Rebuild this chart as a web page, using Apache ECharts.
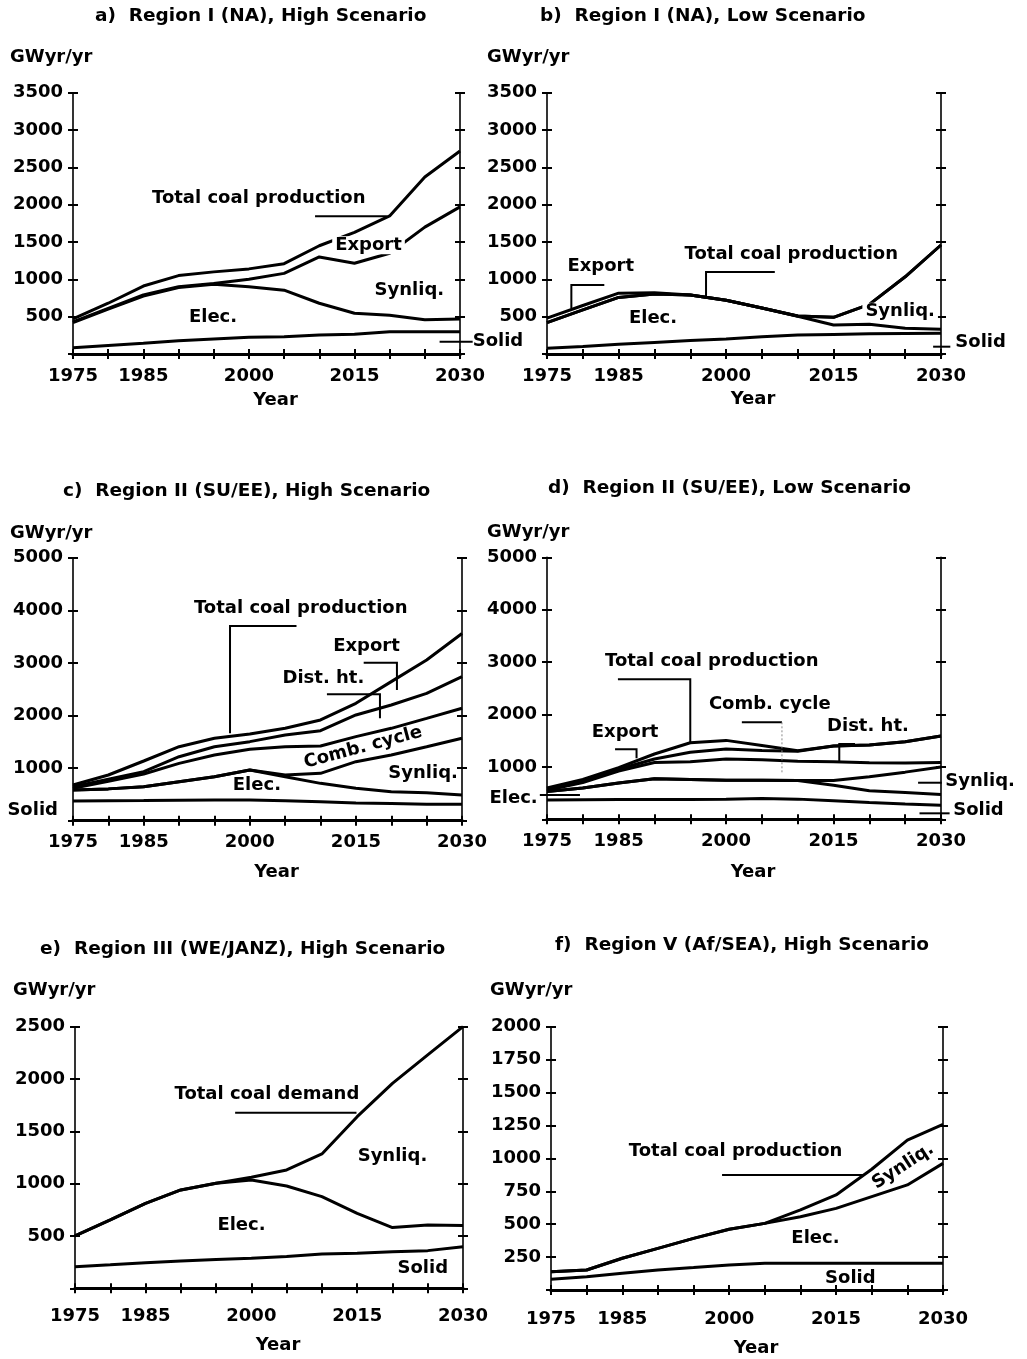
<!DOCTYPE html>
<html><head><meta charset="utf-8">
<script src="https://cdn.jsdelivr.net/npm/echarts@6/dist/echarts.min.js"></script>
<style>html,body{margin:0;padding:0;background:#fff}#c{width:1027px;height:1359px}</style>
</head><body><div id="c"></div><script>
// ---------- DATA ----------
const years = [1975,1980,1985,1990,1995,2000,2005,2010,2015,2020,2025,2030];
const xTickLabels = [1975,1985,2000,2015,2030];

// a) Region I (NA), High Scenario
const aTotal    = [470, 680, 910,1050,1100,1140,1210,1450,1630,1850,2370,2720];
const aNoExport = [430, 610, 790, 900, 945,1000,1080,1300,1215,1350,1700,1970];
const aElec     = [420, 600, 775, 890, 935, 900, 855, 680, 545, 520, 460, 470];
const aSolid    = [ 85, 115, 143, 179, 201, 223, 232, 254, 263, 299, 299, 299];

// b) Region I (NA), Low Scenario
const bTotal    = [480, 650, 815, 820, 790, 720, 615, 508, 491, 665,1034,1460];
const bNoExport = [420, 590, 758, 805, 790, 720, 615, 508, 491, 665,1034,1460];
const bElec     = [420, 590, 758, 805, 790, 720, 615, 505, 388, 400, 344, 330];
const bSolid    = [ 76, 100, 130, 155, 180, 201, 230, 254, 262, 270, 275, 277];

// c) Region II (SU/EE), High Scenario
const cTotal    = [678, 869,1135,1407,1566,1648,1756,1915,2232,2644,3056,3560];
const cNoExport = [647, 790, 932,1217,1407,1503,1629,1712,2010,2200,2422,2739];
const cDistLow  = [615, 750, 888,1090,1249,1357,1407,1420,1598,1756,1946,2137];
const cCombLow  = [583, 605, 647, 742, 837, 964, 870, 900,1122,1249,1407,1566];
const cElec     = [583, 605, 647, 742, 837, 964, 837, 710, 615, 552, 533, 488];
const cSolid    = [374, 378, 382, 388, 392, 393, 380, 361, 335, 325, 315, 311];

// d) Region II (SU/EE), Low Scenario
const dTotal    = [597, 759, 986,1246,1460,1506,1408,1310,1400,1420,1480,1590];
const dNoExport = [578, 740, 954,1150,1279,1343,1311,1300,1400,1420,1480,1590];
const dDistLow  = [552, 700, 921,1084,1097,1149,1136,1110,1100,1080,1075,1085];
const dCombLow  = [532, 597, 694, 772, 759, 746, 746, 740, 740, 810, 900,1000];
const dElec     = [532, 597, 694, 772, 759, 746, 746, 740, 650, 545, 510, 475];
const dSolid    = [370, 375, 380, 380, 380, 385, 395, 385, 355, 320, 290, 270];

// e) Region III (WE/JANZ), High Scenario
const eTotal    = [500, 653, 812, 940,1003,1061,1131,1284,1640,1959,2230,2500];
const eElec     = [500, 653, 812, 940,1003,1035, 978, 876, 717, 580, 605, 599];
const eSolid    = [207, 225, 245, 261, 275, 287, 305, 328, 334, 350, 360, 398];

// f) Region V (Af/SEA), High Scenario
const fTotal    = [139, 152, 241, 316, 392, 461, 506, 608, 722, 917,1139,1258];
const fElec     = [139, 152, 241, 316, 392, 461, 506, 557, 620, 709, 798, 962];
const fSolid    = [ 81, 101, 127, 152, 170, 190, 203, 203, 203, 203, 203, 203];

const panelTitles = [
  'a)  Region I (NA), High Scenario',
  'b)  Region I (NA), Low Scenario',
  'c)  Region II (SU/EE), High Scenario',
  'd)  Region II (SU/EE), Low Scenario',
  'e)  Region III (WE/JANZ), High Scenario',
  'f)  Region V (Af/SEA), High Scenario'
];
const yMaxes = [3500, 3500, 5000, 5000, 2500, 2000];
const yIntervals = [500, 500, 1000, 1000, 500, 250];
const panelSeries = [
  [aTotal, aNoExport, aElec, aSolid],
  [bTotal, bNoExport, bElec, bSolid],
  [cTotal, cNoExport, cDistLow, cCombLow, cElec, cSolid],
  [dTotal, dNoExport, dDistLow, dCombLow, dElec, dSolid],
  [eTotal, eElec, eSolid],
  [fTotal, fElec, fSolid]
];

// ---------- LAYOUT ----------
const FONT = '"DejaVu Sans", sans-serif';
const FW = 'bold';
const FS = 18;
const grids = [
  {left: 73,  top: 92.7,   width: 387, height: 261.3},
  {left: 547, top: 92.7,   width: 394, height: 261.3},
  {left: 73,  top: 557.7,  width: 389, height: 263},
  {left: 547, top: 557.3,  width: 394, height: 262},
  {left: 75,  top: 1026.7, width: 388, height: 261.6},
  {left: 551, top: 1026.7, width: 392, height: 263.3}
];
const titlePos = [[95,7],[540,7],[63,482],[548,479],[40,940],[555,936]];
const unitPos  = [[10,48],[487,48],[10,524],[487,523],[13,981],[490,981]];
const xLabelMargin = [13, 13, 13, 13, 19, 20];
const xNameGap = [37, 36, 43, 44, 48, 49];

const black = '#000';
const option = {
  animation: false,
  backgroundColor: '#fff',
  title: [],
  grid: grids.map(g => Object.assign({outerBoundsMode: 'none', containLabel: false}, g)),
  xAxis: [], yAxis: [], series: []
};

panelTitles.forEach((t, i) => {
  option.title.push({text: t, left: titlePos[i][0], top: titlePos[i][1], padding: 0,
    textStyle: {fontFamily: FONT, fontSize: 18.5, fontWeight: FW, color: black}});
  option.title.push({text: 'GWyr/yr', left: unitPos[i][0], top: unitPos[i][1], padding: 0,
    textStyle: {fontFamily: FONT, fontSize: FS, fontWeight: FW, color: black}});
});

for (let i = 0; i < 6; i++) {
  const xBase = {gridIndex: i, type: 'value', min: 1975, max: 2030, interval: 5, splitLine: {show: false}};
  option.xAxis.push(Object.assign({}, xBase, {
    position: 'bottom',
    axisLine: {show: true, lineStyle: {color: black, width: 3}},
    axisTick: {show: true, length: 5, lineStyle: {color: black, width: 2}},
    axisLabel: {show: true, margin: xLabelMargin[i], fontFamily: FONT, fontSize: FS, fontWeight: FW, color: black,
      formatter: v => xTickLabels.includes(v) ? String(v) : ''},
    name: 'Year', nameLocation: 'middle', nameGap: xNameGap[i],
    nameTextStyle: {fontFamily: FONT, fontSize: FS, fontWeight: FW, color: black, padding: [0, 0, 0, 18]}
  }));
  option.xAxis.push(Object.assign({}, xBase, {
    position: 'bottom', axisLine: {show: false},
    axisTick: {show: true, inside: true, length: 5, lineStyle: {color: black, width: 2}},
    axisLabel: {show: false}
  }));
  option.xAxis.push(Object.assign({}, xBase, {
    position: 'top', axisLine: {show: true, lineStyle: {color: black, width: 3}},
    axisTick: {show: false}, axisLabel: {show: false}
  }));
  const yBase = {gridIndex: i, type: 'value', min: 0, max: yMaxes[i], interval: yIntervals[i], splitLine: {show: false}};
  option.yAxis.push(Object.assign({}, yBase, {
    position: 'left',
    axisLine: {show: true, lineStyle: {color: black, width: 1.6}},
    axisTick: {show: true, length: 5, lineStyle: {color: black, width: 2}},
    axisLabel: {show: true, margin: 10, fontFamily: FONT, fontSize: FS, fontWeight: FW, color: black,
      formatter: v => v === 0 ? '' : String(v)}
  }));
  option.yAxis.push(Object.assign({}, yBase, {
    position: 'left', axisLine: {show: false},
    axisTick: {show: true, inside: true, length: 5, lineStyle: {color: black, width: 2}},
    axisLabel: {show: false}
  }));
  option.yAxis.push(Object.assign({}, yBase, {
    position: 'right', axisLine: {show: true, lineStyle: {color: black, width: 1.6}},
    axisTick: {show: true, length: 5, lineStyle: {color: black, width: 2}},
    axisLabel: {show: false}
  }));
  option.yAxis.push(Object.assign({}, yBase, {
    position: 'right', axisLine: {show: false},
    axisTick: {show: true, inside: true, length: 5, lineStyle: {color: black, width: 2}},
    axisLabel: {show: false}
  }));
  panelSeries[i].forEach(arr => {
    option.series.push({
      type: 'line', xAxisIndex: i * 3, yAxisIndex: i * 4,
      data: years.map((y, k) => [y, arr[k]]),
      symbol: 'none', silent: true, clip: false,
      lineStyle: {color: black, width: 3}
    });
  });
}

const chart = echarts.init(document.getElementById('c'), null, {renderer: 'canvas'});
chart.setOption(option);

// ---------- ANNOTATIONS (data coordinates) ----------
const notes = [
  // a
  {g: 0, t: 'Total coal production', at: [2001.4, 2087]},
  {g: 0, t: 'Export', at: [2017, 1458], bg: true},
  {g: 0, t: 'Synliq.', at: [2022.8, 856]},
  {g: 0, t: 'Elec.', at: [1994.9, 495]},
  {g: 0, t: 'Solid', at: [2031.8, 165], align: 'left'},
  // b
  {g: 1, t: 'Export', at: [1982.5, 1168]},
  {g: 1, t: 'Total coal production', at: [2009.1, 1338]},
  {g: 1, t: 'Elec.', at: [1989.8, 477]},
  {g: 1, t: 'Synliq.', at: [2024.3, 566], bg: true},
  {g: 1, t: 'Solid', at: [2032, 160], align: 'left'},
  // c
  {g: 2, t: 'Total coal production', at: [2007.2, 4043]},
  {g: 2, t: 'Export', at: [2016.5, 3309]},
  {g: 2, t: 'Dist. ht.', at: [2010.4, 2707]},
  {g: 2, t: 'Comb. cycle', at: [2016, 1392], rot: 15},
  {g: 2, t: 'Synliq.', at: [2024.5, 901]},
  {g: 2, t: 'Elec.', at: [2001, 679]},
  {g: 2, t: 'Solid', at: [1969.3, 203]},
  // d
  {g: 3, t: 'Total coal production', at: [1998, 3020]},
  {g: 3, t: 'Export', at: [1985.9, 1651]},
  {g: 3, t: 'Comb. cycle', at: [2006.1, 2185]},
  {g: 3, t: 'Dist. ht.', at: [2019.8, 1782]},
  {g: 3, t: 'Synliq.', at: [2030.6, 720], align: 'left'},
  {g: 3, t: 'Solid', at: [2031.7, 177], align: 'left'},
  {g: 3, t: 'Elec.', at: [1973.7, 406], align: 'right'},
  // e
  {g: 4, t: 'Total coal demand', at: [2002.2, 1857]},
  {g: 4, t: 'Synliq.', at: [2020, 1258]},
  {g: 4, t: 'Elec.', at: [1998.6, 605]},
  {g: 4, t: 'Solid', at: [2024.3, 191]},
  // f
  {g: 5, t: 'Total coal production', at: [2000.9, 1056]},
  {g: 5, t: 'Synliq.', at: [2024.4, 940], rot: 33},
  {g: 5, t: 'Elec.', at: [2012.1, 395]},
  {g: 5, t: 'Solid', at: [2017, 91]}
];
const leaders = [
  {g: 0, pts: [[2009.4, 1846], [2019.6, 1846]]},
  {g: 0, pts: [[2027.1, 165], [2031.8, 165]]},
  {g: 1, pts: [[1978.4, 611], [1978.4, 923], [1983, 923]]},
  {g: 1, pts: [[1997.2, 767], [1997.2, 1097], [2006.8, 1097]]},
  {g: 1, pts: [[2028.9, 98], [2031.3, 98]]},
  {g: 2, pts: [[1997.2, 1661], [1997.2, 3701], [2006.6, 3701]]},
  {g: 2, pts: [[2016.1, 3004], [2020.8, 3004], [2020.8, 2485]]},
  {g: 2, pts: [[2010.9, 2403], [2018.4, 2403], [2018.4, 1947]]},
  {g: 3, pts: [[1984.9, 2671], [1995, 2671], [1995, 1450]]},
  {g: 3, pts: [[1984.5, 1336], [1987.5, 1336], [1987.5, 1164]]},
  {g: 3, pts: [[2002.2, 1851], [2007.8, 1851]]},
  {g: 3, pts: [[2007.8, 1851], [2007.8, 878]], thin: true},
  {g: 3, pts: [[2015.8, 1099], [2015.8, 1437], [2018, 1437]]},
  {g: 3, pts: [[2026.8, 698], [2030.1, 698]]},
  {g: 3, pts: [[2027, 114], [2031.2, 114]]},
  {g: 3, pts: [[1974, 464], [1979.6, 464]]},
  {g: 4, pts: [[1997.7, 1678], [2014.9, 1678]]},
  {g: 5, pts: [[1999, 874], [2018.8, 874]]}
];

function px(g, pt) {
  return chart.convertToPixel({xAxisIndex: g * 3, yAxisIndex: g * 4}, pt);
}
const elements = [];
leaders.forEach(l => {
  elements.push({
    type: 'polyline', z: 90, silent: true,
    shape: {points: l.pts.map(p => px(l.g, p))},
    style: {stroke: l.thin ? '#888' : black, lineWidth: l.thin ? 1 : 2, fill: null,
      lineDash: l.thin ? [2, 2] : null}
  });
});
notes.forEach(n => {
  const p = px(n.g, n.at);
  const style = {
    text: n.t, fontFamily: FONT, fontSize: FS, fontWeight: FW, font: 'bold 18px "DejaVu Sans"', fill: black,
    align: n.align || 'center', textAlign: n.align || 'center',
    verticalAlign: 'middle', textVerticalAlign: 'middle'
  };
  if (n.bg) { style.backgroundColor = '#fff'; style.padding = [0, 3]; }
  elements.push({
    type: 'text', z: 100, silent: true, x: p[0], y: p[1],
    rotation: (n.rot || 0) * Math.PI / 180,
    style: style
  });
});
chart.setOption({graphic: {elements: elements}});
</script></body></html>
